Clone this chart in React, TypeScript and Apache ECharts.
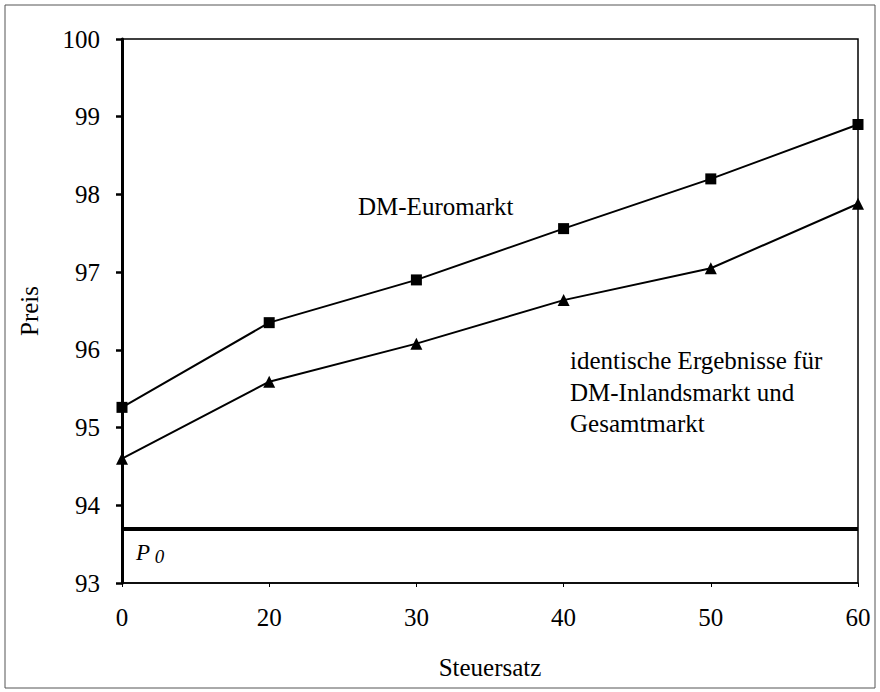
import React, { useEffect, useRef } from "react";
import * as echarts from "echarts";

const categories = ["0", "20", "30", "40", "50", "60"];
const euromarkt = [95.26, 96.35, 96.9, 97.56, 98.2, 98.9];
const inlandGesamt = [94.6, 95.59, 96.08, 96.64, 97.05, 97.88];
const p0 = 93.7;
const yMin = 93;
const yMax = 100;
const yStep = 1;

const FONT = "'Liberation Serif', 'DejaVu Serif', serif";

export default function App() {
  const ref = useRef<HTMLDivElement>(null);
  useEffect(() => {
    if (!ref.current) return;
    const chart = echarts.init(ref.current, null, { renderer: "svg" });
    chart.setOption({
      animation: false,
      backgroundColor: "#ffffff",
      textStyle: { fontFamily: FONT, color: "#000000" },
      grid: {
        left: 122,
        right: 22,
        top: 39,
        bottom: 109,
        show: true,
        borderColor: "#000",
        borderWidth: 1.5,
        backgroundColor: "transparent",
      },
      xAxis: {
        type: "category",
        data: categories,
        boundaryGap: false,
        name: "Steuersatz",
        nameLocation: "middle",
        nameGap: 72,
        nameTextStyle: { fontFamily: FONT, fontSize: 25, color: "#000000" },
        axisLine: { lineStyle: { color: "#000", width: 1.5 } },
        axisTick: { show: true, length: 4, lineStyle: { color: "#000", width: 1 } },
        axisLabel: { fontFamily: FONT, fontSize: 25, color: "#000000", margin: 22 },
        splitLine: { show: false },
      },
      yAxis: {
        type: "value",
        min: yMin,
        max: yMax,
        interval: yStep,
        name: "Preis",
        nameLocation: "middle",
        nameGap: 80,
        nameTextStyle: { fontFamily: FONT, fontSize: 25, color: "#000000" },
        axisLine: { show: true, lineStyle: { color: "#000", width: 3 } },
        axisTick: { show: true, length: 6, lineStyle: { color: "#000", width: 2.5 } },
        axisLabel: { fontFamily: FONT, fontSize: 25, color: "#000000", margin: 22 },
        splitLine: { show: false },
      },
      series: [
        {
          name: "DM-Euromarkt",
          type: "line",
          data: euromarkt,
          symbol: "rect",
          symbolSize: 11,
          itemStyle: { color: "#000" },
          lineStyle: { color: "#000", width: 2 },
          z: 5,
          markLine: {
            silent: true,
            symbol: "none",
            data: [{ yAxis: p0 }],
            lineStyle: { color: "#000", width: 4, type: "solid" },
            label: {
              show: true,
              position: "insideStartBottom",
              distance: [14, 10],
              formatter: "{p|P}{s| 0}",
              rich: {
                p: { fontFamily: FONT, fontSize: 23, fontStyle: "italic", color: "#000" },
                s: { fontFamily: FONT, fontSize: 19, fontStyle: "italic", color: "#000", padding: [8, 0, 0, 0] },
              },
            },
          },
        },
        {
          name: "DM-Inlandsmarkt und Gesamtmarkt",
          type: "line",
          data: inlandGesamt,
          symbol: "triangle",
          symbolSize: 12,
          itemStyle: { color: "#000" },
          lineStyle: { color: "#000", width: 2 },
          z: 5,
        },
      ],
      graphic: [
        {
          type: "rect",
          shape: { x: 5, y: 5, width: 870, height: 683 },
          style: { fill: "none", stroke: "#555", lineWidth: 1 },
          silent: true,
        },
        {
          type: "text",
          x: 358,
          y: 206,
          style: {
            text: "DM-Euromarkt",
            font: `25px ${FONT}`,
            fill: "#000",
            verticalAlign: "middle",
          },
        },
        {
          type: "text",
          x: 570,
          y: 345,
          style: {
            text: "identische Ergebnisse für\nDM-Inlandsmarkt und\nGesamtmarkt",
            font: `25px ${FONT}`,
            fill: "#000",
            lineHeight: 31.5,
            verticalAlign: "top",
          },
        },
      ],
    });
    return () => chart.dispose();
  }, []);
  return (
    <div
      ref={ref}
      style={{ position: "fixed", left: 0, top: 0, width: 880, height: 692 }}
    />
  );
}
